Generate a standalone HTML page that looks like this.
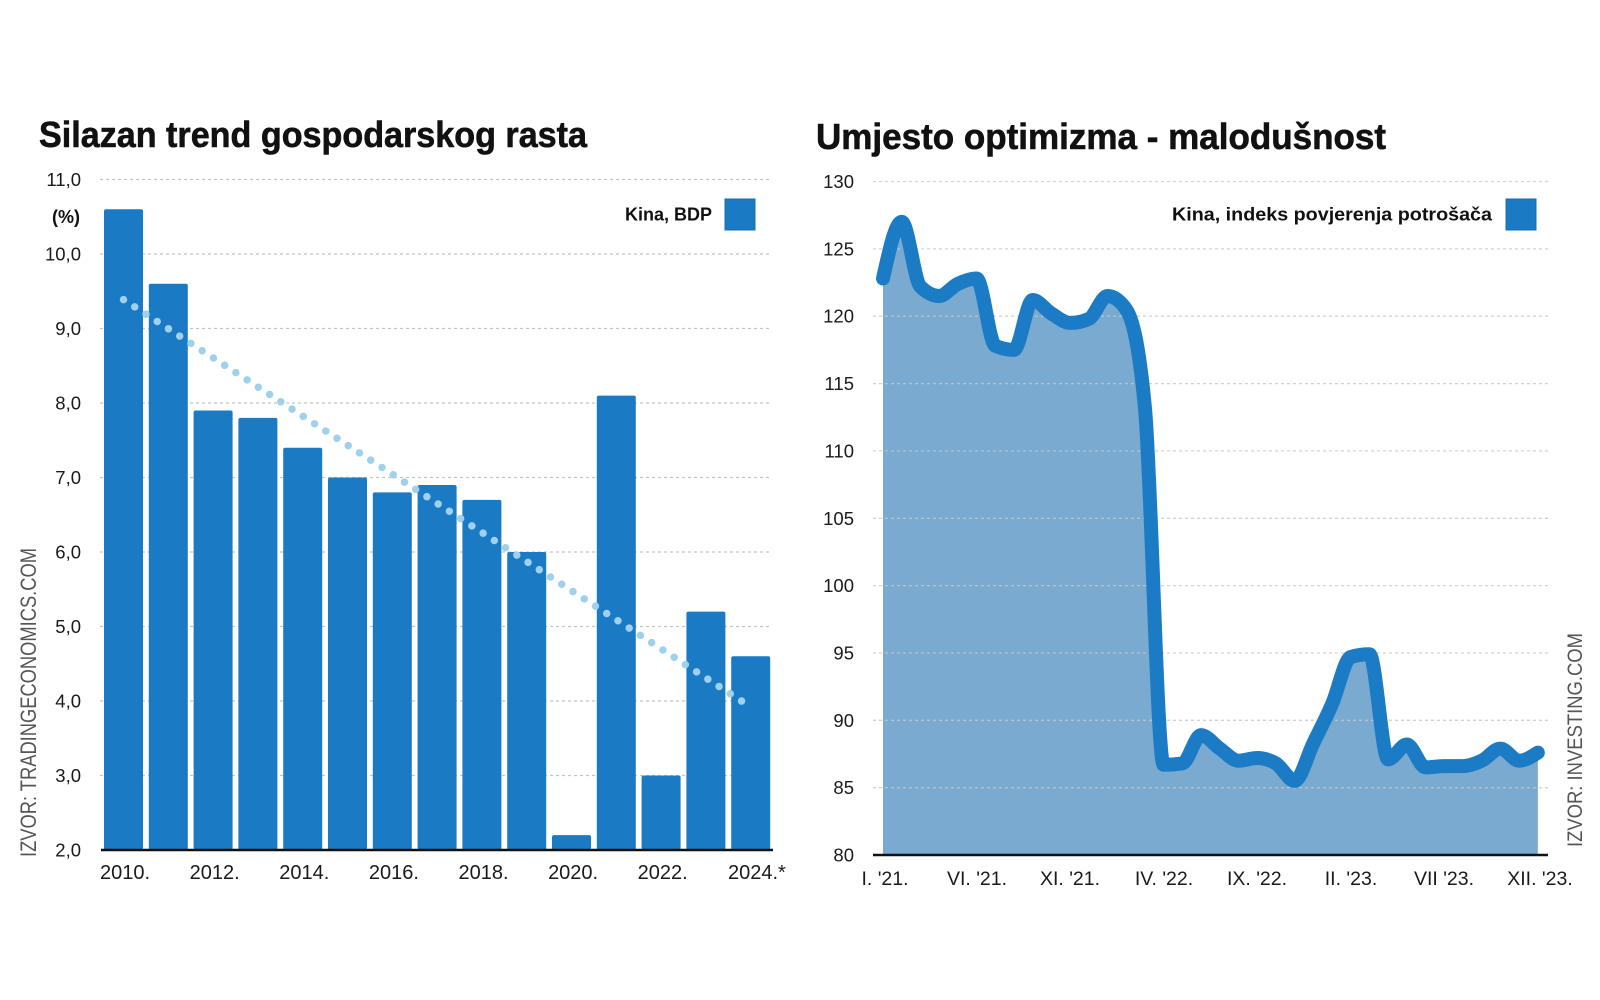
<!DOCTYPE html>
<html>
<head>
<meta charset="utf-8">
<style>
  html,body{margin:0;padding:0;background:#fff;}
  svg{display:block;}
  text{font-family:"Liberation Sans", Arial, sans-serif;}
</style>
</head>
<body>
<svg id="s" width="1600" height="1000" viewBox="0 0 1600 1000" xmlns="http://www.w3.org/2000/svg">
  <rect x="0" y="0" width="1600" height="1000" fill="#ffffff"/>

  <!-- ============ LEFT CHART ============ -->
  <text x="39" y="147" font-size="36" font-weight="bold" fill="#111" stroke="#111" stroke-width="0.6" textLength="548" lengthAdjust="spacingAndGlyphs">Silazan trend gospodarskog rasta</text>

  <!-- gridlines -->
  <g stroke="#c4c4c4" stroke-width="1.3" stroke-dasharray="3 3">
    <line x1="100" y1="179.5" x2="772" y2="179.5"/>
    <line x1="100" y1="254" x2="772" y2="254"/>
    <line x1="100" y1="328.5" x2="772" y2="328.5"/>
    <line x1="100" y1="403" x2="772" y2="403"/>
    <line x1="100" y1="477.5" x2="772" y2="477.5"/>
    <line x1="100" y1="552" x2="772" y2="552"/>
    <line x1="100" y1="626.5" x2="772" y2="626.5"/>
    <line x1="100" y1="701" x2="772" y2="701"/>
    <line x1="100" y1="775.5" x2="772" y2="775.5"/>
  </g>

  <!-- y labels -->
  <g font-size="18.5" fill="#1a1a1a" text-anchor="end">
    <text x="81" y="186">11,0</text>
    <text x="81" y="260.5">10,0</text>
    <text x="81" y="335">9,0</text>
    <text x="81" y="409.5">8,0</text>
    <text x="81" y="484">7,0</text>
    <text x="81" y="558.5">6,0</text>
    <text x="81" y="633">5,0</text>
    <text x="81" y="707.5">4,0</text>
    <text x="81" y="782">3,0</text>
    <text x="81" y="856.5">2,0</text>
  </g>
  <text x="80" y="223" font-size="18" font-weight="bold" fill="#111" text-anchor="end">(%)</text>

  <!-- bars -->
  <g fill="#1a7bc4">
    <rect x="104" y="209.3" width="39" height="640.7" rx="2"/>
    <rect x="148.8" y="283.8" width="39" height="566.2" rx="2"/>
    <rect x="193.6" y="410.5" width="39" height="439.5" rx="2"/>
    <rect x="238.4" y="417.9" width="39" height="432.1" rx="2"/>
    <rect x="283.2" y="447.7" width="39" height="402.3" rx="2"/>
    <rect x="328" y="477.5" width="39" height="372.5" rx="2"/>
    <rect x="372.8" y="492.4" width="39" height="357.6" rx="2"/>
    <rect x="417.6" y="485" width="39" height="365" rx="2"/>
    <rect x="462.4" y="499.9" width="39" height="350.1" rx="2"/>
    <rect x="507.2" y="552" width="39" height="298" rx="2"/>
    <rect x="552" y="835.1" width="39" height="14.9" rx="2"/>
    <rect x="596.8" y="395.6" width="39" height="454.4" rx="2"/>
    <rect x="641.6" y="775.5" width="39" height="74.5" rx="2"/>
    <rect x="686.4" y="611.6" width="39" height="238.4" rx="2"/>
    <rect x="731.2" y="656.3" width="39" height="193.7" rx="2"/>
  </g>

  <!-- trend dotted line -->
  <line x1="123.5" y1="299.6" x2="750.7" y2="707" stroke="#9fd0ec" stroke-width="7.5" stroke-linecap="round" stroke-dasharray="0 13.4"/>

  <!-- axis -->
  <line x1="101" y1="850" x2="773" y2="850" stroke="#111" stroke-width="2.5"/>

  <!-- x labels -->
  <g font-size="20" fill="#1a1a1a" text-anchor="middle">
    <text x="125" y="879">2010.</text>
    <text x="214.7" y="879">2012.</text>
    <text x="304.3" y="879">2014.</text>
    <text x="393.9" y="879">2016.</text>
    <text x="483.5" y="879">2018.</text>
    <text x="573.1" y="879">2020.</text>
    <text x="662.7" y="879">2022.</text>
  </g>
  <text x="728" y="879" font-size="20" fill="#1a1a1a">2024.*</text>

  <!-- legend -->
  <text x="712" y="220.5" font-size="18" font-weight="bold" fill="#111" text-anchor="end">Kina, BDP</text>
  <rect x="725" y="199" width="30" height="31" fill="#1a7bc4" stroke="#176cae" stroke-width="1"/>

  <!-- source -->
  <text transform="translate(36,857) rotate(-90)" font-size="22" fill="#555" textLength="309" lengthAdjust="spacingAndGlyphs">IZVOR: TRADINGECONOMICS.COM</text>

  <!-- ============ RIGHT CHART ============ -->
  <text x="816" y="149" font-size="36" font-weight="bold" fill="#111" stroke="#111" stroke-width="0.6" textLength="570" lengthAdjust="spacingAndGlyphs">Umjesto optimizma - malodušnost</text>

  <!-- fill (generated) -->
  <path id="areaP" d="" fill="#7aaad0"/>

  <!-- gridlines -->
  <g stroke="#c8c8c8" stroke-width="1.3" stroke-dasharray="3 3" opacity="0.8">
    <line x1="873" y1="181.5" x2="1548" y2="181.5"/>
    <line x1="873" y1="248.9" x2="1548" y2="248.9"/>
    <line x1="873" y1="316.2" x2="1548" y2="316.2"/>
    <line x1="873" y1="383.6" x2="1548" y2="383.6"/>
    <line x1="873" y1="450.9" x2="1548" y2="450.9"/>
    <line x1="873" y1="518.3" x2="1548" y2="518.3"/>
    <line x1="873" y1="585.6" x2="1548" y2="585.6"/>
    <line x1="873" y1="653" x2="1548" y2="653"/>
    <line x1="873" y1="720.3" x2="1548" y2="720.3"/>
    <line x1="873" y1="787.7" x2="1548" y2="787.7"/>
  </g>

  <!-- line (generated) -->
  <path id="lineP" d="" fill="none" stroke="#1b7cc5" stroke-width="14" stroke-linecap="round" stroke-linejoin="round"/>

  <!-- axis -->
  <line x1="873" y1="855" x2="1548" y2="855" stroke="#111" stroke-width="2.5"/>

  <!-- y labels -->
  <g font-size="18.5" fill="#1a1a1a" text-anchor="end">
    <text x="854" y="188">130</text>
    <text x="854" y="255.4">125</text>
    <text x="854" y="322.7">120</text>
    <text x="854" y="390.1">115</text>
    <text x="854" y="457.4">110</text>
    <text x="854" y="524.8">105</text>
    <text x="854" y="592.1">100</text>
    <text x="854" y="659.5">95</text>
    <text x="854" y="726.8">90</text>
    <text x="854" y="794.2">85</text>
    <text x="854" y="861.5">80</text>
  </g>

  <!-- x labels -->
  <g font-size="19.5" fill="#1a1a1a" text-anchor="middle">
    <text x="885" y="885">I. '21.</text>
    <text x="977" y="885">VI. '21.</text>
    <text x="1070" y="885">XI. '21.</text>
    <text x="1164" y="885">IV. '22.</text>
    <text x="1257" y="885">IX. '22.</text>
    <text x="1351" y="885">II. '23.</text>
    <text x="1444" y="885">VII '23.</text>
    <text x="1540" y="885">XII. '23.</text>
  </g>

  <!-- legend -->
  <text x="1492" y="220.5" font-size="18" font-weight="bold" fill="#111" text-anchor="end" textLength="320" lengthAdjust="spacingAndGlyphs">Kina, indeks povjerenja potrošača</text>
  <rect x="1506" y="199" width="30" height="31" fill="#1a7bc4" stroke="#176cae" stroke-width="1"/>

  <!-- source -->
  <text transform="translate(1582,847) rotate(-90)" font-size="21" fill="#555" textLength="214" lengthAdjust="spacingAndGlyphs">IZVOR: INVESTING.COM</text>
</svg>

<script>
(function(){
  var vals=[122.8,127.0,122.2,121.5,122.4,122.8,117.8,117.5,121.2,120.2,119.5,119.8,
            121.5,120.5,113.2,86.7,86.8,88.9,87.9,87.0,87.2,86.8,85.5,88.3,
            91.2,94.7,94.9,87.1,88.2,86.5,86.6,86.6,87.0,87.9,87.0,87.6];
  var x0=883, h=18.71, base=855, k=13.47;
  var n=vals.length, xs=[], ys=[];
  for(var i=0;i<n;i++){xs.push(x0+i*h); ys.push(base-(vals[i]-80)*k);}
  var d=[];
  for(var i=0;i<n-1;i++) d.push((ys[i+1]-ys[i])/h);
  var m=new Array(n);
  function sgn(v){return v<0?-1:1;}
  for(var i=1;i<n-1;i++){
    var s0=d[i-1], s1=d[i];
    if(s0*s1<=0){m[i]=0;}
    else{
      var p=(s0+s1)/2;
      m[i]=(sgn(s0)+sgn(s1))*Math.min(Math.abs(s0),Math.abs(s1),0.5*Math.abs(p));
    }
  }
  m[0]=(3*d[0]-m[1])/2;
  m[n-1]=(3*d[n-2]-m[n-2])/2;
  var path="M"+xs[0].toFixed(2)+","+ys[0].toFixed(2);
  for(var i=0;i<n-1;i++){
    var c1x=xs[i]+h/3, c1y=ys[i]+m[i]*h/3;
    var c2x=xs[i+1]-h/3, c2y=ys[i+1]-m[i+1]*h/3;
    path+=" C"+c1x.toFixed(2)+","+c1y.toFixed(2)+" "+c2x.toFixed(2)+","+c2y.toFixed(2)+" "+xs[i+1].toFixed(2)+","+ys[i+1].toFixed(2);
  }
  document.getElementById("lineP").setAttribute("d",path);
  var area=path+" L"+xs[n-1].toFixed(2)+","+base+" L"+xs[0].toFixed(2)+","+base+" Z";
  document.getElementById("areaP").setAttribute("d",area);
})();
</script>
</body>
</html>
